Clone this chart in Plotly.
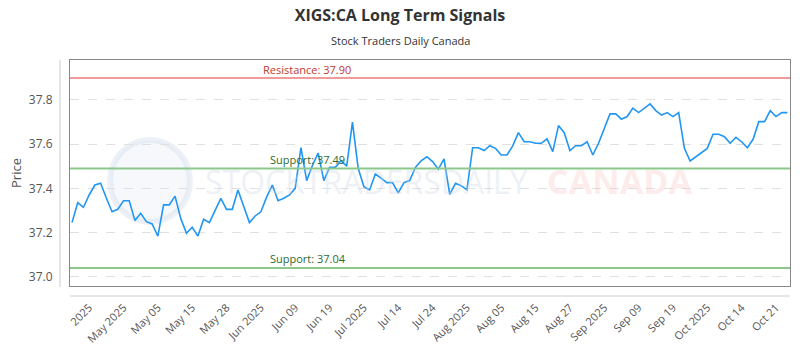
import plotly.graph_objects as go

# ---- data ----
prices = [
    37.245, 37.335, 37.314, 37.370, 37.415, 37.423, 37.356, 37.294, 37.305, 37.344,
    37.344, 37.254, 37.287, 37.249, 37.239, 37.184, 37.325, 37.325, 37.365, 37.264,
    37.197, 37.224, 37.184, 37.260, 37.245, 37.302, 37.355, 37.305, 37.305, 37.393,
    37.317, 37.245, 37.275, 37.294, 37.360, 37.415, 37.344, 37.355, 37.370, 37.400,
    37.584, 37.435, 37.503, 37.560, 37.435, 37.495, 37.495, 37.525, 37.501, 37.700,
    37.491, 37.408, 37.393, 37.465, 37.446, 37.426, 37.426, 37.380, 37.426, 37.435,
    37.495, 37.525, 37.543, 37.521, 37.486, 37.533, 37.373, 37.423, 37.412, 37.393,
    37.584, 37.584, 37.571, 37.593, 37.581, 37.551, 37.551, 37.592, 37.652, 37.611,
    37.611, 37.604, 37.604, 37.624, 37.566, 37.684, 37.652, 37.571, 37.593, 37.593,
    37.611, 37.551, 37.604, 37.668, 37.737, 37.737, 37.713, 37.725, 37.763, 37.743,
    37.763, 37.782, 37.752, 37.732, 37.743, 37.725, 37.743, 37.581, 37.524, 37.543,
    37.563, 37.581, 37.645, 37.645, 37.634, 37.604, 37.631, 37.611, 37.584, 37.622,
    37.702, 37.702, 37.752, 37.725, 37.743, 37.743,
]
tick_labels = [
    "2025", "May 2025", "May 05", "May 15", "May 28", "Jun 2025", "Jun 09",
    "Jun 19", "Jul 2025", "Jul 14", "Jul 24", "Aug 2025", "Aug 05", "Aug 15",
    "Aug 27", "Sep 2025", "Sep 09", "Sep 19", "Oct 2025", "Oct 14", "Oct 21",
]
tick_first = 3
tick_step = 6
resistance = [37.90]
supports = [37.49, 37.04]
y_ticks = [37.0, 37.2, 37.4, 37.6, 37.8]

idx = list(range(len(prices)))
tickvals = [tick_first + tick_step * k for k in range(len(tick_labels))]

fig = go.Figure()
fig.add_trace(go.Scatter(
    x=idx, y=prices, mode="lines",
    line=dict(color="#2196F3", width=1.6),
    hoverinfo="skip", showlegend=False,
))

# watermark
fig.add_shape(type="circle", xref="paper", yref="paper",
              x0=(110 - 70) / 720, x1=(190 - 70) / 720,
              y0=(286 - 222) / 226, y1=(286 - 140) / 226,
              line=dict(color="rgba(210,220,235,0.40)", width=6),
              fillcolor="rgba(225,232,242,0.30)", layer="below")
fig.add_annotation(xref="paper", yref="paper", x=(203 - 70) / 720, y=(286 - 181) / 226,
                   text="STOCKTRADERSDAILY", showarrow=False, xanchor="left", yanchor="middle",
                   font=dict(family="Open Sans", size=32, color="rgba(205,215,230,0.35)"))
fig.add_annotation(xref="paper", yref="paper", x=(545 - 70) / 720, y=(286 - 181) / 226,
                   text="<b>CANADA</b>", showarrow=False, xanchor="left", yanchor="middle",
                   font=dict(family="Open Sans", size=34, color="rgba(250,190,190,0.30)"))

# resistance / support lines
for r in resistance:
    fig.add_hline(y=r, line=dict(color="#F29A9A", width=2), layer="above")
    fig.add_annotation(xref="paper", x=(261 - 70) / 720, y=r, yshift=8,
                       text=f"Resistance: {r:.2f}", showarrow=False, xanchor="left",
                       yanchor="middle", font=dict(family="Open Sans", size=11, color="#C0392B"))
for s in supports:
    fig.add_hline(y=s, line=dict(color="#8CC88C", width=2), layer="above")
    fig.add_annotation(xref="paper", x=(268 - 70) / 720, y=s, yshift=9,
                       text=f"Support: {s:.2f}", showarrow=False, xanchor="left",
                       yanchor="middle", font=dict(family="Open Sans", size=11, color="#2E6B2E"))

# offset axis lines
fig.add_shape(type="line", xref="paper", yref="paper", x0=0, x1=1,
              y0=-10 / 226, y1=-10 / 226, line=dict(color="#CCCCCC", width=1))
fig.add_shape(type="line", xref="paper", yref="paper", x0=-10 / 720, x1=-10 / 720,
              y0=-1 / 226, y1=1.0, line=dict(color="#CCCCCC", width=1))

fig.update_layout(
    width=800, height=350,
    margin=dict(l=70, r=10, t=60, b=64, autoexpand=False),
    paper_bgcolor="white", plot_bgcolor="white",
    title=dict(text="<b>XIGS:CA Long Term Signals</b>", x=0.5, xanchor="center",
               y=1 - 15 / 350, yanchor="middle",
               font=dict(family="Open Sans", size=16, color="#333333")),
    font=dict(family="Open Sans", color="#555555"),
    showlegend=False,
)
fig.add_annotation(xref="paper", yref="paper", x=(400 - 70) / 720, y=1 + (60 - 40) / 226,
                   text="Stock Traders Daily Canada", showarrow=False, xanchor="center",
                   yanchor="middle", font=dict(family="Open Sans", size=11, color="#333333"))

fig.update_xaxes(
    range=[-0.35, 125.45], tickmode="array", tickvals=tickvals, ticktext=tick_labels,
    tickangle=-45, tickfont=dict(size=11, color="#555555"), automargin=False,
    ticks="outside", ticklen=10, tickcolor="rgba(0,0,0,0)",
    showgrid=False, zeroline=False,
    showline=True, linecolor="#888888", linewidth=1, mirror=True,
)
fig.update_yaxes(
    range=[36.958, 37.981], tickmode="array", tickvals=y_ticks,
    ticktext=[f"{v:.1f}" for v in y_ticks], automargin=False,
    tickfont=dict(size=12, color="#555555"),
    ticks="outside", ticklen=14, tickcolor="rgba(0,0,0,0)",
    showgrid=True, gridcolor="#E0E0E0", griddash="dash", gridwidth=1,
    zeroline=False, showline=True, linecolor="#888888", linewidth=1, mirror=True,
    title=dict(text="Price", font=dict(size=13, color="#555555"), standoff=4),
)

fig.write_html("out.html")
